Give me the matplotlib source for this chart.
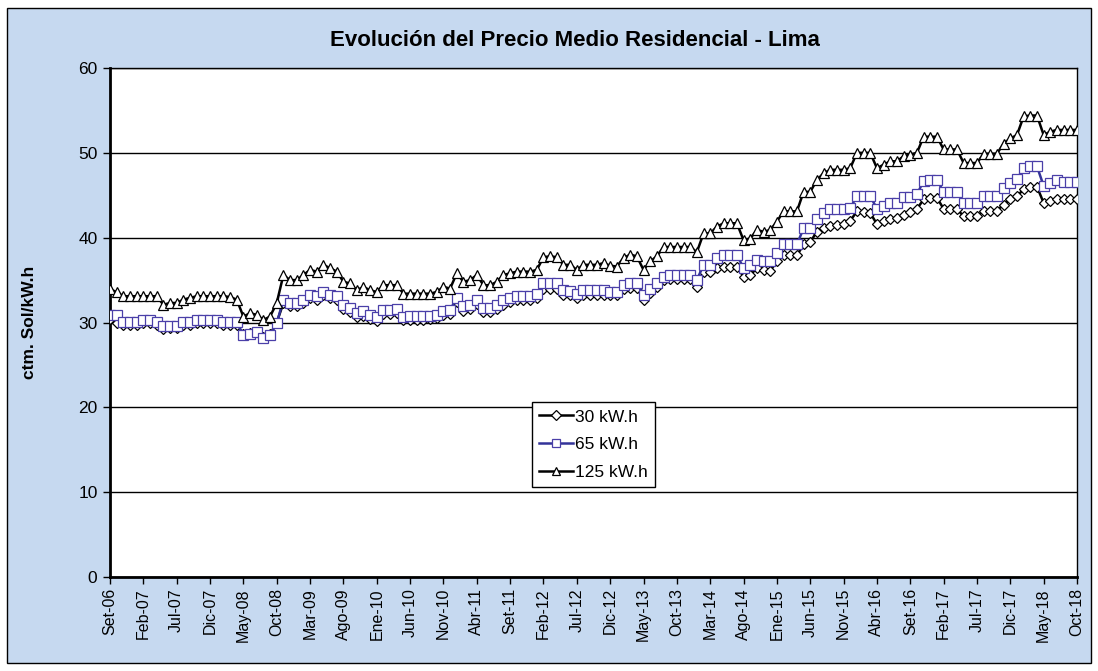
import matplotlib
matplotlib.use("Agg")
import matplotlib.pyplot as plt
from matplotlib.patches import Rectangle

plt.rcParams['font.family'] = ['Liberation Sans', 'DejaVu Sans']

tick_labels = ["Set-06", "Feb-07", "Jul-07", "Dic-07", "May-08", "Oct-08", "Mar-09", "Ago-09",
               "Ene-10", "Jun-10", "Nov-10", "Abr-11", "Set-11", "Feb-12", "Jul-12", "Dic-12",
               "May-13", "Oct-13", "Mar-14", "Ago-14", "Ene-15", "Jun-15", "Nov-15", "Abr-16",
               "Set-16", "Feb-17", "Jul-17", "Dic-17", "May-18", "Oct-18"]

kwh30 = [30.4, 30.0, 29.7, 29.7, 29.7, 29.9, 29.9, 29.7, 29.2, 29.3,
         29.3, 29.7, 29.7, 29.9, 29.9, 29.9, 29.9, 29.7, 29.7, 29.7,
         28.6, 28.8, 28.9, 28.3, 28.6, 30.0, 32.3, 31.9, 31.9, 32.3,
         32.9, 32.7, 33.2, 32.9, 32.6, 31.6, 31.2, 30.6, 30.8, 30.4,
         30.2, 31.0, 31.0, 31.1, 30.3, 30.3, 30.3, 30.3, 30.4, 30.5,
         30.9, 31.0, 32.4, 31.4, 31.6, 32.2, 31.2, 31.2, 31.6, 32.1,
         32.4, 32.6, 32.6, 32.6, 32.9, 34.0, 34.0, 34.0, 33.3, 33.2,
         32.9, 33.3, 33.3, 33.3, 33.3, 33.2, 33.2, 34.0, 34.1, 34.1,
         32.7, 33.5, 34.2, 35.0, 35.1, 35.1, 35.1, 35.1, 34.2, 36.0,
         36.0, 36.4, 36.6, 36.6, 36.6, 35.4, 35.6, 36.4, 36.2, 36.1,
         37.2, 37.9, 37.9, 37.9, 39.2, 39.5, 40.7, 41.1, 41.4, 41.5,
         41.6, 42.0, 43.1, 43.0, 42.9, 41.6, 42.0, 42.2, 42.3, 42.7,
         43.0, 43.4, 44.5, 44.7, 44.7, 43.4, 43.4, 43.4, 42.5, 42.5,
         42.5, 43.2, 43.2, 43.2, 43.9, 44.5, 44.9, 45.7, 46.0, 46.0,
         44.1, 44.3, 44.5, 44.5, 44.5, 44.5]

kwh65 = [30.9, 30.9, 30.1, 30.1, 30.1, 30.3, 30.3, 30.1, 29.6, 29.6,
         29.6, 30.1, 30.1, 30.3, 30.3, 30.3, 30.3, 30.1, 30.1, 30.1,
         28.5, 28.7, 28.9, 28.2, 28.5, 29.9, 32.7, 32.3, 32.3, 32.7,
         33.3, 33.1, 33.6, 33.3, 33.1, 32.1, 31.7, 31.1, 31.3, 30.9,
         30.7, 31.5, 31.5, 31.6, 30.7, 30.8, 30.8, 30.8, 30.8, 30.9,
         31.4, 31.5, 32.9, 31.9, 32.1, 32.7, 31.7, 31.7, 32.1, 32.6,
         32.9, 33.1, 33.1, 33.1, 33.4, 34.6, 34.6, 34.6, 33.8, 33.7,
         33.4, 33.8, 33.8, 33.8, 33.8, 33.6, 33.6, 34.4, 34.6, 34.6,
         33.3, 34.0, 34.6, 35.4, 35.6, 35.6, 35.6, 35.6, 35.0, 36.8,
         36.8, 37.6, 38.0, 38.0, 38.0, 36.4, 36.8, 37.4, 37.2, 37.2,
         38.2, 39.2, 39.2, 39.2, 41.1, 41.1, 42.2, 42.9, 43.4, 43.4,
         43.4, 43.5, 44.9, 44.9, 44.9, 43.4, 43.7, 44.1, 44.1, 44.8,
         44.8, 45.1, 46.7, 46.8, 46.8, 45.4, 45.4, 45.4, 44.1, 44.1,
         44.1, 44.9, 44.9, 44.9, 45.8, 46.4, 46.9, 48.2, 48.4, 48.4,
         46.1, 46.5, 46.8, 46.6, 46.6, 46.6]

kwh125 = [33.9, 33.6, 33.1, 33.1, 33.1, 33.1, 33.1, 33.1, 32.1, 32.3,
          32.3, 32.7, 32.9, 33.1, 33.1, 33.1, 33.1, 33.1, 33.0, 32.7,
          30.7, 31.1, 30.9, 30.3, 30.7, 32.3, 35.6, 35.0, 35.0, 35.6,
          36.2, 36.0, 36.8, 36.4, 36.0, 34.8, 34.6, 33.8, 34.2, 33.8,
          33.6, 34.4, 34.4, 34.4, 33.4, 33.4, 33.4, 33.4, 33.4, 33.6,
          34.2, 34.0, 35.8, 34.8, 35.0, 35.6, 34.4, 34.4, 34.8, 35.6,
          35.8, 36.0, 36.0, 36.0, 36.2, 37.7, 37.8, 37.7, 36.8, 36.8,
          36.2, 36.8, 36.8, 36.8, 37.0, 36.7, 36.6, 37.6, 38.0, 37.8,
          36.2, 37.2, 37.8, 38.9, 38.9, 38.9, 38.9, 38.9, 38.3, 40.5,
          40.5, 41.3, 41.7, 41.7, 41.7, 39.7, 39.9, 40.9, 40.7, 40.9,
          41.9, 43.1, 43.1, 43.1, 45.4, 45.4, 46.8, 47.6, 48.0, 48.0,
          48.0, 48.2, 50.0, 50.0, 50.0, 48.2, 48.6, 49.0, 49.0, 49.6,
          49.8, 50.0, 51.9, 51.9, 51.9, 50.4, 50.4, 50.4, 48.8, 48.8,
          48.8, 49.9, 49.9, 49.9, 51.1, 51.7, 52.1, 54.3, 54.4, 54.4,
          52.1, 52.5, 52.7, 52.7, 52.7, 52.7]

series_names = ["30 kW.h", "65 kW.h", "125 kW.h"]

W, H = 1098, 671
fig = plt.figure(figsize=(W / 100, H / 100), dpi=100)
fig.patch.set_facecolor("white")
bg = Rectangle((7 / W, 8 / H), 1 - 14 / W, 1 - 16 / H, transform=fig.transFigure,
               facecolor="#C6D9F0", edgecolor="black", linewidth=1, zorder=-10)
fig.patches.append(bg)

ax = fig.add_axes([110 / W, 1 - 577 / H, (1077 - 110) / W, (577 - 68) / H])
ax.set_facecolor("white")

x = list(range(len(kwh30)))
ax.plot(x, kwh30, color="black", lw=1.8, marker="D", markersize=4.8,
        markerfacecolor="white", markeredgecolor="black", markeredgewidth=0.9,
        label=series_names[0], zorder=3)
ax.plot(x, kwh65, color="#333399", lw=1.8, marker="s", markersize=6.8,
        markerfacecolor="white", markeredgecolor="#4A3FA8", markeredgewidth=0.9,
        label=series_names[1], zorder=4)
ax.plot(x, kwh125, color="black", lw=1.8, marker="^", markersize=7.4,
        markerfacecolor="white", markeredgecolor="black", markeredgewidth=0.9,
        label=series_names[2], zorder=5)

ax.set_xlim(0, len(kwh30) - 1)
ax.set_ylim(0, 60)
ax.set_yticks(range(0, 61, 10))
ax.set_xticks(range(0, len(kwh30), 5))
ax.set_xticklabels(tick_labels, rotation=90, fontsize=11.5)
ax.tick_params(axis="y", labelsize=12.5, length=5, width=1, direction="out", pad=4)
ax.tick_params(axis="x", length=5, width=1, direction="out", pad=3)
ax.yaxis.grid(True, color="black", lw=1)
ax.set_axisbelow(True)
for s in ["left", "bottom"]:
    ax.spines[s].set_linewidth(2)
for s in ["top", "right"]:
    ax.spines[s].set_linewidth(1)

ax.set_ylabel("ctm. Sol/kW.h", fontsize=12.5, fontweight="bold")
ax.yaxis.set_label_coords(-0.076, 0.5)

fig.text(575 / W, 1 - 40 / H, "Evolución del Precio Medio Residencial - Lima",
         ha="center", va="center", fontsize=16, fontweight="bold")

leg = ax.legend(loc="upper left", bbox_to_anchor=(0.436, 0.343), fancybox=False,
                framealpha=1, edgecolor="black", fontsize=12.5, handlelength=2.0,
                handletextpad=0.1, borderpad=0.4, labelspacing=0.72, borderaxespad=0)
leg.get_frame().set_linewidth(1)
for h in leg.legend_handles:
    h.set_markersize(5.5)

fig.savefig("out.png", dpi=100)
